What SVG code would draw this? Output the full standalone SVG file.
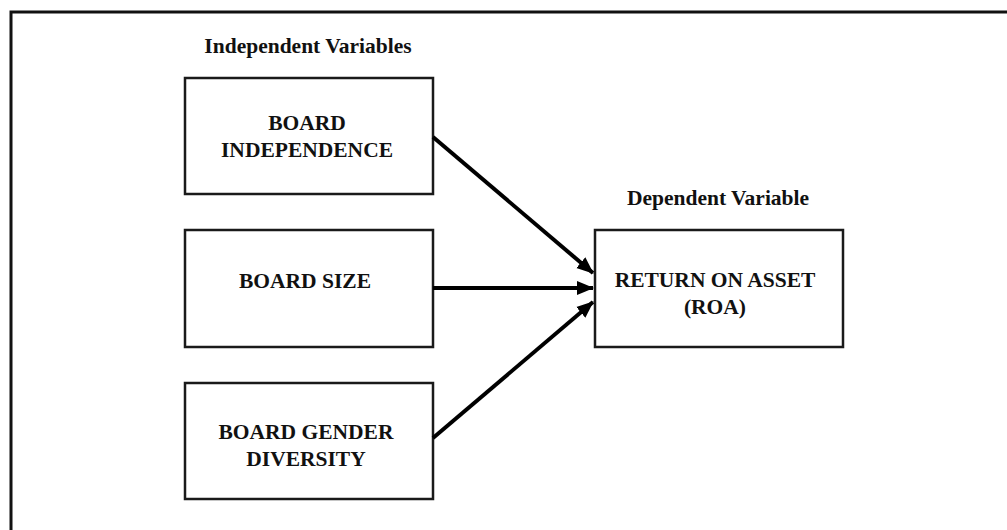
<svg xmlns="http://www.w3.org/2000/svg" width="1007" height="530" viewBox="0 0 1007 530">
  <style>
    .box { fill: #ffffff; stroke: #1a1a1a; stroke-width: 2.5; }
    .t { font-family: "Liberation Serif", "Times New Roman", serif; font-weight: bold; font-size: 21.5px; fill: #111111; text-anchor: middle; }
    .conn { stroke: #000000; stroke-width: 4; fill: none; marker-end: url(#arrow); }
  </style>
  <defs>
    <marker id="arrow" markerUnits="userSpaceOnUse" markerWidth="18" markerHeight="16" refX="16" refY="8" orient="auto">
      <path d="M0,1 L17,8 L0,15 Z" fill="#000000"/>
    </marker>
  </defs>
  <rect x="0" y="0" width="1007" height="530" fill="#ffffff"/>
  <g id="frame">
    <path d="M11,540 L11,12 L1020,12" fill="none" stroke="#111111" stroke-width="3"/>
  </g>
  <g id="label-independent">
    <text class="t" x="308" y="53">Independent Variables</text>
  </g>
  <g id="label-dependent">
    <text class="t" x="718" y="205">Dependent Variable</text>
  </g>
  <g id="node-board-independence">
    <rect class="box" x="185" y="78" width="248" height="116"/>
    <text class="t" x="307" y="130">BOARD</text>
    <text class="t" x="307" y="157">INDEPENDENCE</text>
  </g>
  <g id="node-board-size">
    <rect class="box" x="185" y="230" width="248" height="117"/>
    <text class="t" x="305" y="288">BOARD SIZE</text>
  </g>
  <g id="node-board-gender-diversity">
    <rect class="box" x="185" y="383" width="248" height="116"/>
    <text class="t" x="306" y="439">BOARD GENDER</text>
    <text class="t" x="306" y="466">DIVERSITY</text>
  </g>
  <g id="node-roa">
    <rect class="box" x="595" y="230" width="248" height="117"/>
    <text class="t" x="715" y="287">RETURN ON ASSET</text>
    <text class="t" x="715" y="314">(ROA)</text>
  </g>
  <g id="connectors">
    <line class="conn" x1="433" y1="137" x2="593" y2="273"/>
    <line class="conn" x1="433" y1="288" x2="593" y2="288"/>
    <line class="conn" x1="433" y1="438" x2="593" y2="302"/>
  </g>
</svg>
